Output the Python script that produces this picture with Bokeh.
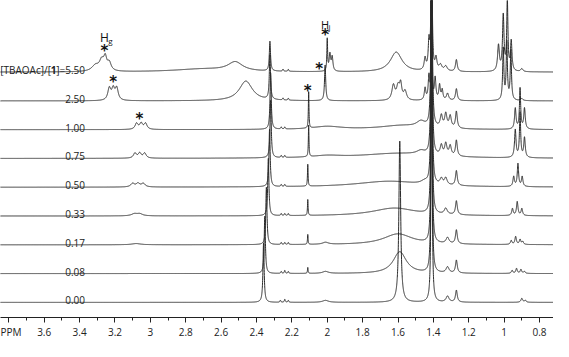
import numpy as np
from bokeh.plotting import figure
from bokeh.models import Range1d, FixedTicker
from bokeh.core.properties import value
from bokeh.embed import file_html
from bokeh.resources import INLINE

# ---------------- data ----------------
ratios = ["0.00", "0.08", "0.17", "0.33", "0.50", "0.75", "1.00", "2.50", "5.50"]

# peak lists: (ppm, height, width) for each titration point
peaks_000 = [(2.36, 60, 0.008), (2.265, 2, 0.006), (2.24, 3, 0.006), (2.22, 2, 0.006),
             (2.01, 2, 0.04), (1.59, 163, 0.012), (1.41, 340, 0.006),
             (1.32, 6, 0.02), (1.27, 12, 0.012), (0.90, 4, 0.012), (0.88, 2, 0.01)]
peaks_008 = [(2.353, 58, 0.008), (2.26, 2, 0.006), (2.24, 3, 0.006), (2.22, 2, 0.006),
             (2.11, 6, 0.004), (2.01, 2, 0.04), (1.59, 22, 0.09), (1.41, 340, 0.006),
             (1.32, 6, 0.02), (1.27, 13, 0.012),
             (0.955, 3, 0.01), (0.93, 5, 0.01), (0.905, 4, 0.01), (0.885, 2, 0.01)]
peaks_017 = [(3.08, 1.2, 0.06), (2.344, 58, 0.008), (2.26, 2, 0.006), (2.24, 2, 0.006), (2.22, 2, 0.006),
             (2.11, 10, 0.004), (2.01, 2, 0.04), (1.60, 11, 0.2), (1.41, 340, 0.006),
             (1.32, 6, 0.02), (1.27, 14, 0.012),
             (0.96, 4, 0.01), (0.935, 8, 0.01), (0.91, 5, 0.01), (0.895, 3, 0.01)]
peaks_033 = [(3.09, 2, 0.04), (3.06, 2, 0.04), (2.333, 58, 0.008), (2.26, 2, 0.006), (2.24, 2, 0.006),
             (2.22, 2, 0.006), (2.11, 16, 0.004), (1.62, 8, 0.3), (1.41, 340, 0.006),
             (1.33, 6, 0.02), (1.27, 14, 0.012),
             (0.953, 7, 0.01), (0.926, 14, 0.01), (0.90, 7, 0.01)]
peaks_050 = [(3.10, 3.5, 0.025), (3.07, 3.5, 0.025), (3.04, 3.5, 0.025),
             (2.326, 58, 0.008), (2.26, 2, 0.006), (2.24, 2, 0.006), (2.11, 22, 0.004),
             (1.65, 6, 0.45), (1.45, 3, 0.05), (1.41, 340, 0.006),
             (1.355, 6, 0.018), (1.33, 7, 0.018), (1.27, 15, 0.012),
             (0.946, 10, 0.01), (0.922, 23, 0.009), (0.898, 10, 0.01)]
peaks_075 = [(3.087, 5, 0.02), (3.06, 5, 0.02), (3.032, 5, 0.02),
             (2.32, 58, 0.008), (2.26, 2, 0.006), (2.24, 2, 0.006), (2.105, 32, 0.004),
             (2.0, 2, 0.2), (1.60, 5, 0.5), (1.47, 4, 0.06), (1.41, 340, 0.006),
             (1.355, 10, 0.015), (1.33, 12, 0.015), (1.305, 10, 0.015), (1.27, 16, 0.012),
             (0.937, 28, 0.01), (0.91, 45, 0.008), (0.885, 20, 0.01)]
peaks_100 = [(3.078, 6, 0.02), (3.052, 6, 0.02), (3.027, 6, 0.02),
             (2.32, 57, 0.008), (2.26, 2, 0.006), (2.24, 2, 0.006), (2.105, 37, 0.004),
             (2.0, 3, 0.2), (1.58, 4, 0.3), (1.47, 6, 0.06), (1.41, 340, 0.006),
             (1.355, 12, 0.015), (1.33, 14, 0.015), (1.305, 12, 0.015), (1.27, 17, 0.012),
             (0.937, 21, 0.01), (0.91, 41, 0.008), (0.885, 21, 0.01)]
peaks_250 = [(3.232, 12, 0.02), (3.21, 11, 0.02), (3.19, 12, 0.02),
             (2.46, 20, 0.09), (2.324, 45, 0.008), (2.25, 2, 0.006), (2.22, 2, 0.006),
             (2.012, 36, 0.008),
             (1.626, 15, 0.02), (1.60, 13, 0.02), (1.585, 15, 0.015), (1.56, 9, 0.02),
             (1.447, 12, 0.01), (1.425, 24, 0.01), (1.41, 76, 0.006), (1.39, 22, 0.01),
             (1.365, 15, 0.01), (1.35, 10, 0.01), (1.32, 7, 0.015), (1.27, 12, 0.012),
             (1.005, 52, 0.008), (0.985, 58, 0.008), (0.962, 50, 0.008), (0.90, 2, 0.015)]
peaks_550 = [(3.31, 6, 0.05), (3.275, 10, 0.03), (3.255, 12, 0.02), (3.232, 8, 0.025),
             (2.70, 3, 0.4), (2.52, 9, 0.1), (2.324, 30, 0.008), (2.25, 2, 0.006), (2.22, 2, 0.006),
             (2.00, 32, 0.005), (1.985, 17, 0.01), (1.972, 14, 0.01),
             (1.61, 20, 0.08),
             (1.447, 12, 0.012), (1.425, 28, 0.01), (1.41, 200, 0.006), (1.385, 12, 0.012),
             (1.36, 6, 0.02), (1.33, 5, 0.02), (1.27, 12, 0.012),
             (1.032, 26, 0.012), (1.005, 56, 0.01), (0.982, 70, 0.008), (0.96, 30, 0.01),
             (0.90, 3, 0.015)]
spectra = [peaks_000, peaks_008, peaks_017, peaks_033, peaks_050,
           peaks_075, peaks_100, peaks_250, peaks_550]

tick_values = [3.8, 3.6, 3.4, 3.2, 3.0, 2.8, 2.6, 2.4, 2.2, 2.0, 1.8, 1.6, 1.4, 1.2, 1.0, 0.8]
minor_values = [3.7, 3.5, 3.3, 3.1, 2.9, 2.7, 2.5, 2.3, 2.1, 1.9, 1.7, 1.5, 1.3, 1.1, 0.9]

# ---------------- layout ----------------
X_LEFT, X_RIGHT = 3.847, 0.721
Y_BOTTOM, Y_TOP = 9.7, 330.2
BASE0, STEP = 25.0, 29.1
FONT = "Open Sans"
LINE = "#2b2b2b"

p = figure(width=553, height=341, x_range=Range1d(X_LEFT, X_RIGHT), y_range=Range1d(Y_BOTTOM, Y_TOP),
           output_backend="svg", toolbar_location=None, y_axis_location=None,
           min_border_left=0, min_border_right=0, min_border_top=0, min_border_bottom=0)
p.outline_line_color = None
p.xgrid.visible = False
p.ygrid.visible = False

x = np.arange(0.70, 3.87, 0.0004)
for i, pk in enumerate(spectra):
    y = np.zeros_like(x)
    for c, h, w in pk:
        y += h / (1.0 + ((x - c) / (w / 2.0)) ** 2)
    base = BASE0 + STEP * i
    p.line(x, y + base, line_color=LINE, line_width=1)

# ratio labels
LAB_X = 3.369
for i, r in enumerate(ratios[:-1]):
    p.text([LAB_X], [BASE0 + STEP * i + 2], text=[r], text_align="right",
           text_baseline="alphabetic", text_font=value(FONT), text_font_size="10px",
           text_color="#222222")
top_y = BASE0 + STEP * 8 + 2
p.text([LAB_X], [top_y], text=["]=" + ratios[-1]], text_align="right", text_baseline="alphabetic",
       text_font=value(FONT), text_font_size="10px", text_color="#222222")
p.text([3.530], [top_y], text=["1"], text_align="right", text_baseline="alphabetic",
       text_font=value(FONT), text_font_size="10px", text_font_style="bold", text_color="#222222")
p.text([3.562], [top_y], text=["[TBAOAc]/["], text_align="right", text_baseline="alphabetic",
       text_font=value(FONT), text_font_size="10px", text_color="#222222")

# asterisks
ast_x = [3.259, 3.210, 3.062, 2.111, 2.045, 2.012]
ast_y = [283, 252, 214, 243, 265, 299]
p.text(ast_x, ast_y, text=["*"] * len(ast_x), text_align="center", text_baseline="middle",
       text_font=value("DejaVu Sans"), text_font_size="15px", text_font_style="bold",
       text_color="#111111", y_offset=4)

# H_g and H_j labels
p.text([3.2593], [293], text=["H"], text_align="center", text_baseline="alphabetic",
       text_font=value(FONT), text_font_size="12px", text_color="#111111")
p.text([3.2374], [290], text=["g"], text_align="left", text_baseline="alphabetic",
       text_font=value(FONT), text_font_size="8px", text_color="#111111")
p.text([2.0121], [306], text=["H"], text_align="center", text_baseline="alphabetic",
       text_font=value(FONT), text_font_size="11px", text_color="#111111")
p.text([1.9929], [304], text=["j"], text_align="left", text_baseline="alphabetic",
       text_font=value(FONT), text_font_size="8px", text_color="#111111")

# axis
ax = p.xaxis[0]
ax.ticker = FixedTicker(ticks=tick_values, minor_ticks=minor_values)
ax.major_label_overrides = {3.8: "PPM"}
ax.axis_line_color = "#222222"
ax.major_tick_line_color = "#222222"
ax.minor_tick_line_color = "#222222"
ax.major_tick_out = 5
ax.major_tick_in = 0
ax.minor_tick_out = 3
ax.minor_tick_in = 0
ax.major_label_standoff = 2
ax.major_label_text_font = FONT
ax.major_label_text_font_size = "10px"
ax.major_label_text_color = "#222222"

open("out.html", "w").write(file_html(p, INLINE))
